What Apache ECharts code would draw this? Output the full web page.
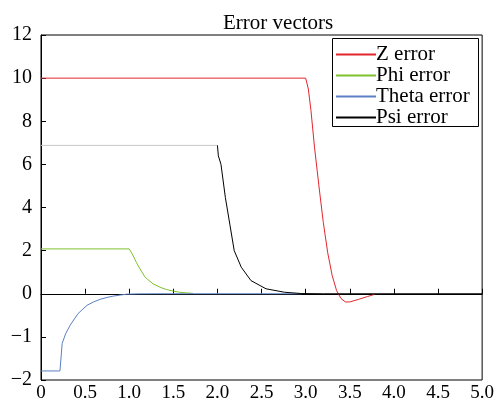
<!DOCTYPE html>
<html>
<head>
<meta charset="utf-8">
<script src="https://cdn.jsdelivr.net/npm/echarts@6/dist/echarts.min.js"></script>
<style>html,body{margin:0;padding:0;background:#fff}#c{width:497px;height:407px}</style>
</head>
<body>
<div id="c"></div>
<script>
// ---- data (x in seconds, y in axis units) ----
var seriesNames = ['Z error', 'Phi error', 'Theta error', 'Psi error'];
var zError = [[0,10],[3.0,10],[3.03,9.5],[3.06,8.5],[3.1,6.8],[3.15,5.0],[3.2,3.3],[3.25,1.9],[3.3,0.85],[3.35,0.15],[3.4,-0.22],[3.45,-0.38],[3.5,-0.38],[3.6,-0.26],[3.7,-0.13],[3.78,-0.03]];
var phiError = [[0,2.08],[1.0,2.08],[1.04,1.8],[1.08,1.46],[1.13,1.1],[1.18,0.77],[1.27,0.46],[1.35,0.3],[1.42,0.2],[1.5,0.12],[1.57,0.07],[1.65,0.04],[1.72,0.02]];
var thetaError = [[0,-3.58],[0.215,-3.58],[0.24,-2.3],[0.28,-1.85],[0.33,-1.46],[0.42,-0.92],[0.52,-0.54],[0.6,-0.37],[0.67,-0.26],[0.75,-0.17],[0.82,-0.11],[0.9,-0.06],[0.97,-0.02],[1.1,-0.005],[1.3,0],[2.95,0]];
var psiFlat = [[0,6.88],[2.0,6.88]];
var psiError = [[2.0,6.88],[2.01,6.4],[2.04,6.0],[2.09,4.46],[2.14,3.23],[2.19,2.0],[2.27,1.23],[2.38,0.61],[2.55,0.23],[2.76,0.07],[2.95,0.01],[3.2,0],[5.0,0]];
var xTickValues = [0,0.5,1.0,1.5,2.0,2.5,3.0,3.5,4.0,4.5,5.0];
var xTickLabels = ['0','0.5','1.0','1.5','2.0','2.5','3.0','3.5','4.0','4.5','5.0'];
var yTickValues = [-4,-2,0,2,4,6,8,10,12];
var yTickLabels = ['\u22122','\u22121','0','2','4','6','8','10','12'];
var colors = ['#e3262e', '#7fc12e', '#5b80c4', '#000000'];

var FONT = 'Liberation Serif';
var chart = echarts.init(document.getElementById('c'), null, {renderer: 'canvas'});
function lookup(vals, labels, v) {
  for (var i = 0; i < vals.length; i++) if (Math.abs(vals[i] - v) < 1e-6) return labels[i];
  return '';
}
chart.setOption({
  animation: false,
  backgroundColor: '#fff',
  title: {
    text: 'Error vectors', left: 218, top: 8,
    textStyle: {fontFamily: FONT, fontSize: 21, fontWeight: 'normal', color: '#000'}
  },
  graphic: [{
    type: 'rect', left: 332, top: 38, z: 10,
    shape: {x: 0, y: 0, width: 146, height: 88},
    style: {fill: '#fff', stroke: '#000', lineWidth: 1}
  }],
  legend: {
    data: seriesNames,
    orient: 'vertical', left: 332, top: 38, selectedMode: false, z: 20,
    itemWidth: 40, itemHeight: 19, itemGap: 0,
    itemStyle: {opacity: 0},
    padding: [6, 4, 6, 3],
    textStyle: {fontFamily: FONT, fontSize: 21, lineHeight: 19, color: '#000', padding: [0,0,0,-5]}
  },
  grid: {left: 41, right: 14, top: 35, bottom: 27, show: true, borderColor: '#000', borderWidth: 1},
  xAxis: {
    type: 'value', min: 0, max: 5, interval: 0.5,
    axisLine: {show: true, lineStyle: {color: '#000'}},
    axisTick: {show: true, inside: true, length: 5, lineStyle: {color: '#000'}},
    splitLine: {show: false},
    axisLabel: {fontFamily: FONT, fontSize: 19, color: '#000', margin: 4,
      formatter: function (v) { return lookup(xTickValues, xTickLabels, v); }}
  },
  yAxis: {
    type: 'value', min: -4, max: 12, interval: 2,
    axisLine: {show: true, lineStyle: {color: '#000'}},
    axisTick: {show: true, inside: true, length: 5, lineStyle: {color: '#000'}},
    splitLine: {show: false},
    axisLabel: {fontFamily: FONT, fontSize: 20, color: '#000', margin: 9,
      formatter: function (v) { return lookup(yTickValues, yTickLabels, v); }}
  },
  series: [
    {name: seriesNames[0], type: 'line', data: zError, symbol: 'none', color: colors[0], lineStyle: {width: 1}},
    {name: seriesNames[1], type: 'line', data: phiError, symbol: 'none', color: colors[1], lineStyle: {width: 1}},
    {name: seriesNames[2], type: 'line', data: thetaError, symbol: 'none', color: colors[2], lineStyle: {width: 1}},
    {id: 'psiFlat', type: 'line', data: psiFlat, symbol: 'none', color: '#c8c8c8', lineStyle: {width: 1}},
    {name: seriesNames[3], type: 'line', data: psiError, symbol: 'none', color: colors[3], lineStyle: {width: 1}}
  ]
});
</script>
</body>
</html>
